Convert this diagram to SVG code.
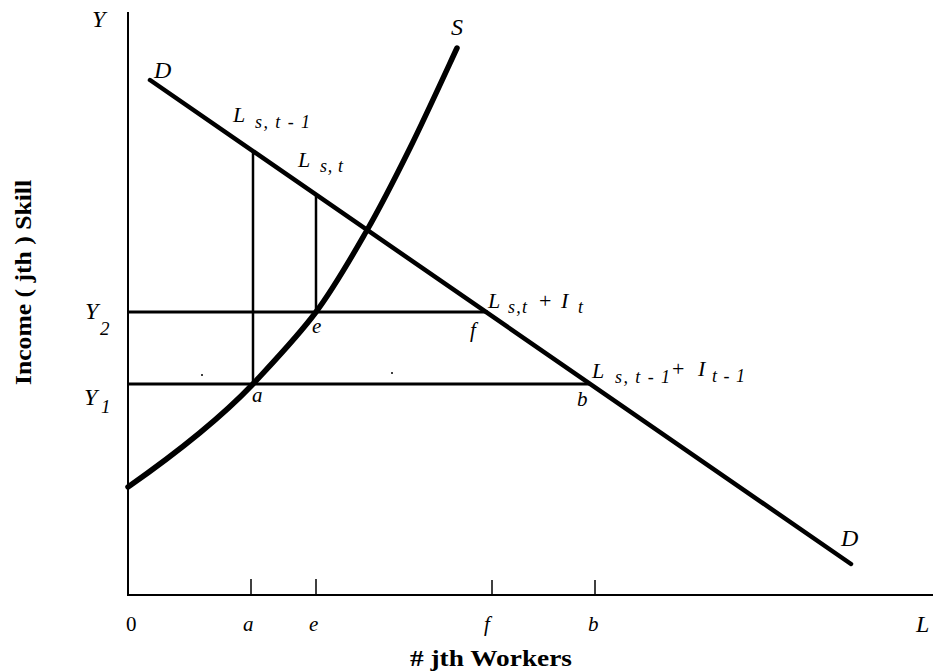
<svg xmlns="http://www.w3.org/2000/svg" width="933" height="672" viewBox="0 0 933 672">
<style>
.it{font-family:"Liberation Serif","DejaVu Serif",serif;font-style:italic;fill:#000}
.up{font-family:"Liberation Serif","DejaVu Serif",serif;fill:#000}
.bd{font-family:"Liberation Serif","DejaVu Serif",serif;font-weight:bold;fill:#000;font-size:23px}
.big{font-size:24px}
.main{font-size:22px}
.sub{font-size:18px}
.pt{font-size:21px}
.axis{stroke:#000;stroke-width:2;fill:none}
.guide{stroke:#000;stroke-width:3;fill:none}
.vguide{stroke:#000;stroke-width:2.5;fill:none}
.tick{stroke:#000;stroke-width:1.5;fill:none}
</style>
<rect width="933" height="672" fill="#fff"/>
<g id="axes">
<line class="axis" x1="128" y1="12" x2="128" y2="596"/>
<line class="axis" x1="127" y1="595" x2="933" y2="595"/>
<line class="tick" x1="251" y1="579" x2="251" y2="595"/>
<line class="tick" x1="316" y1="579" x2="316" y2="595"/>
<line class="tick" x1="492" y1="580" x2="492" y2="595"/>
<line class="tick" x1="595" y1="580" x2="595" y2="595"/>
</g>
<g id="connectors">
<line class="guide" x1="128" y1="312" x2="488" y2="312"/>
<line class="guide" x1="128" y1="384" x2="590" y2="384"/>
<line class="vguide" x1="253" y1="152" x2="253" y2="384"/>
<line class="vguide" x1="316" y1="195" x2="316" y2="312"/>
</g>
<g id="demand">
<line x1="150" y1="80" x2="851" y2="564" stroke="#000" stroke-width="4.5" stroke-linecap="round"/>
</g>
<g id="supply">
<path d="M128,487 C168,459 218,420.75 253,384 C269.5,366 297.2,337.3 316,312 C334.8,286.7 350.3,259.3 366,232 C381.7,204.7 394.8,178.7 410,148 C425.2,117.3 449.2,64.7 457,48" fill="none" stroke="#000" stroke-width="5.5" stroke-linecap="round"/>
</g>
<g id="dots">
<circle cx="202" cy="375" r="1" fill="#000"/>
<circle cx="392" cy="373" r="1" fill="#000"/>
</g>
<g id="labels">
<text class="it big" x="92" y="27">Y</text>
<text class="it big" x="154" y="78">D</text>
<text class="it big" x="451" y="35">S</text>
<text class="it big" x="841" y="546">D</text>
<text class="it big" x="85" y="319">Y</text>
<text class="it sub" x="100" y="335" style="font-size:19px">2</text>
<text class="it big" x="84" y="405">Y</text>
<text class="it sub" x="101" y="413" style="font-size:19px">1</text>
<text class="it main" x="233" y="122">L</text>
<text class="it sub" x="255" y="128" textLength="55" lengthAdjust="spacing">s, t - 1</text>
<text class="it main" x="298" y="167">L</text>
<text class="it sub" x="320" y="172" textLength="23" lengthAdjust="spacing">s, t</text>
<text class="it main" x="488" y="308">L</text>
<text class="it sub" x="508" y="313" textLength="19" lengthAdjust="spacing">s,t</text>
<text class="up main" x="539" y="308">+</text>
<text class="it main" x="561" y="308">I</text>
<text class="it sub" x="578" y="313">t</text>
<text class="it main" x="592" y="378">L</text>
<text class="it sub" x="615" y="383" textLength="55" lengthAdjust="spacing">s, t - 1</text>
<text class="up main" x="672" y="376">+</text>
<text class="it main" x="698" y="376">I</text>
<text class="it sub" x="712" y="382" textLength="33" lengthAdjust="spacing">t - 1</text>
<text class="it pt" x="252" y="402">a</text>
<text class="it pt" x="312" y="333">e</text>
<text class="it pt" x="470" y="337">f</text>
<text class="it pt" x="577" y="406">b</text>
<text class="up pt" x="126" y="631">0</text>
<text class="it pt" x="243" y="631">a</text>
<text class="it pt" x="309" y="631">e</text>
<text class="it pt" x="484" y="631">f</text>
<text class="it pt" x="588" y="631">b</text>
<text class="it big" x="916" y="632">L</text>
<text class="bd" x="410" y="666" textLength="162" lengthAdjust="spacingAndGlyphs">#  jth Workers</text>
<text class="bd" transform="translate(31,385) rotate(-90)" x="0" y="0" textLength="205" lengthAdjust="spacingAndGlyphs">Income ( jth ) Skill</text>
</g>
</svg>
